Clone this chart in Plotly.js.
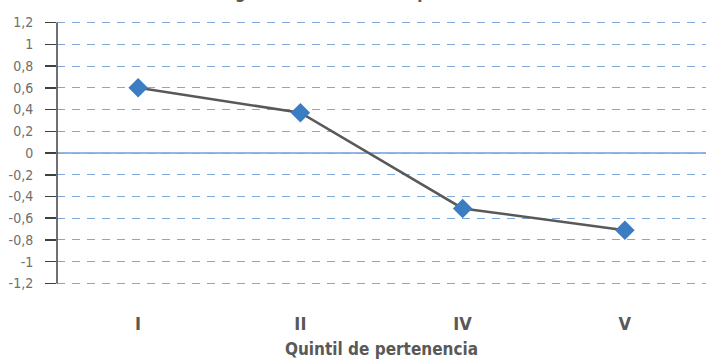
<!DOCTYPE html>
<html>
<head>
<meta charset="utf-8">
<script src="https://cdn.plot.ly/plotly-3.0.1.min.js"></script>
<style>
  html, body { margin: 0; padding: 0; background: #ffffff; }
  #chart { width: 706px; height: 359px; }
</style>
</head>
<body>
<div id="chart"></div>
<script>
// Quintiles shown (quintil III is the reference category)
const quintiles = ["I", "II", "IV", "V"];
const coefficients = [0.60, 0.37, -0.51, -0.71];

// Y axis ticks, written with a decimal comma
const yTickValues = [1.2, 1, 0.8, 0.6, 0.4, 0.2, 0, -0.2, -0.4, -0.6, -0.8, -1, -1.2];
const yTickLabels = ["1,2", "1", "0,8", "0,6", "0,4", "0,2", "0", "-0,2", "-0,4", "-0,6", "-0,8", "-1", "-1,2"];

const titleText = "(categoría de referencia: quintil III)";
const xAxisTitle = "Quintil de pertenencia";

const narrow = "'DejaVu Sans Condensed', 'DejaVu Sans', sans-serif";

const trace = {
  type: "scatter",
  mode: "lines+markers",
  x: quintiles,
  y: coefficients,
  line: { color: "#595959", width: 2.5 },
  marker: { symbol: "diamond", size: 15, color: "#3A7DC2", line: { width: 0 } },
  hoverinfo: "skip"
};

const layout = {
  width: 706,
  height: 359,
  margin: { l: 57, r: 0, t: 21, b: 74 },
  paper_bgcolor: "#ffffff",
  plot_bgcolor: "#ffffff",
  showlegend: false,
  font: { family: narrow, color: "#595959", size: 13 },
  xaxis: {
    type: "category",
    range: [-0.5, 3.5],
    showgrid: false,
    showline: false,
    zeroline: false,
    ticks: "",
    tickfont: { family: narrow, size: 18, color: "#595959", weight: "bold" },
    ticklabelstandoff: 26,
    title: { text: xAxisTitle, font: { family: narrow, size: 17, color: "#595959", weight: "bold" }, standoff: 11 }
  },
  yaxis: {
    // a little headroom so the outermost dashed lines at ±1,2 are kept
    range: [-1.214, 1.214],
    tickmode: "array",
    tickvals: yTickValues,
    ticktext: yTickLabels,
    showgrid: true,
    gridcolor: "#7FA8DD",
    gridwidth: 1,
    griddash: "8px,7px",
    zeroline: false,
    showline: false,
    ticks: "outside",
    ticklen: 11,
    tickcolor: "#404040",
    tickwidth: 1.5,
    ticklabelstandoff: 9,
    tickfont: { family: narrow, size: 14, color: "#6E6E6E" }
  },
  shapes: [
    // solid baseline at zero across the plot
    {
      type: "line", xref: "paper", yref: "y",
      x0: 0, x1: 1, y0: 0, y1: 0,
      line: { color: "#6F9FD8", width: 1.5 },
      layer: "below"
    },
    // vertical axis line running between the outer ticks
    {
      type: "line", xref: "paper", yref: "y",
      x0: 0, x1: 0, y0: yTickValues[yTickValues.length - 1], y1: yTickValues[0],
      line: { color: "#404040", width: 1.5 },
      layer: "above"
    }
  ],
  annotations: [{
    text: titleText,
    xref: "paper", yref: "paper",
    x: 0.442, y: 1.0646,
    xanchor: "center", yanchor: "bottom",
    showarrow: false,
    font: { family: narrow, size: 17, color: "#595959", weight: "bold" }
  }]
};

Plotly.newPlot("chart", [trace], layout, { displayModeBar: false, staticPlot: true });
</script>
</body>
</html>
